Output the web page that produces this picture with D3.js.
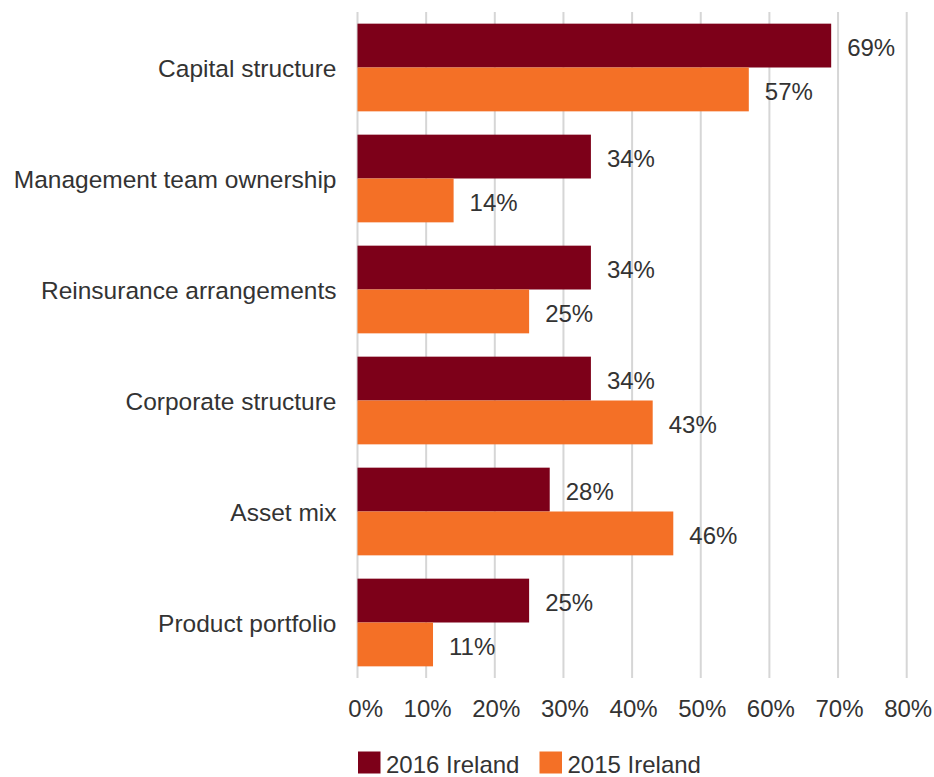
<!DOCTYPE html>
<html>
<head>
<meta charset="utf-8">
<script src="https://cdn.jsdelivr.net/npm/d3@7"></script>
<style>
  html, body { margin: 0; padding: 0; background: #fff; }
  svg { display: block; font-family: "Liberation Sans", Arial, Helvetica, sans-serif; }
</style>
</head>
<body>
<svg id="chart" width="934" height="777"></svg>
<script>
// Survey topics (top to bottom) and the share of respondents per year
const categories = [
  "Capital structure",
  "Management team ownership",
  "Reinsurance arrangements",
  "Corporate structure",
  "Asset mix",
  "Product portfolio"
];
const series2016 = [69, 34, 34, 34, 28, 25];
const series2015 = [57, 14, 25, 43, 46, 11];
const seriesNames = ["2016 Ireland", "2015 Ireland"];
const tickValues = [0, 10, 20, 30, 40, 50, 60, 70, 80];

const colors = ["#7d0019", "#f47026"];
const textColor = "#333333";
const gridColor = "#d6d6d6";

const svg = d3.select("#chart");

const plotLeft = 357.5, plotRight = 906.7, plotTop = 12, plotBottom = 678;

const x = d3.scaleLinear().domain([0, 80]).range([plotLeft, plotRight]);
const y = d3.scaleBand().domain(categories).range([plotTop, plotBottom])
  .paddingInner(0.21).paddingOuter(0.105);
const sub = d3.scaleBand().domain([0, 1]).range([0, y.bandwidth()]);

// vertical gridlines
svg.append("g").selectAll("line")
  .data(tickValues)
  .join("line")
  .attr("x1", d => x(d)).attr("x2", d => x(d))
  .attr("y1", plotTop).attr("y2", plotBottom)
  .attr("stroke", gridColor)
  .attr("stroke-width", 2);

// x tick labels, right-aligned just past each gridline
svg.append("g").selectAll("text")
  .data(tickValues)
  .join("text")
  .attr("x", d => x(d) + 25.5)
  .attr("y", 716.5)
  .attr("text-anchor", "end")
  .attr("font-size", 24)
  .attr("fill", textColor)
  .text(d => d + "%");

// category labels
svg.append("g").selectAll("text")
  .data(categories)
  .join("text")
  .attr("x", plotLeft - 21)
  .attr("y", d => y(d) + y.bandwidth() / 2)
  .attr("dy", "0.37em")
  .attr("text-anchor", "end")
  .attr("font-size", 24.5)
  .attr("fill", textColor)
  .text(d => d);

// bars and value labels
const rows = categories.map((c, i) => ({ cat: c, vals: [series2016[i], series2015[i]] }));
const groups = svg.append("g").selectAll("g")
  .data(rows)
  .join("g")
  .attr("transform", d => `translate(0,${y(d.cat)})`);

groups.selectAll("rect")
  .data(d => d.vals.map((v, k) => ({ v, k })))
  .join("rect")
  .attr("x", x(0))
  .attr("y", d => sub(d.k))
  .attr("width", d => x(d.v) - x(0))
  .attr("height", sub.bandwidth())
  .attr("fill", d => colors[d.k]);

groups.selectAll("text")
  .data(d => d.vals.map((v, k) => ({ v, k })))
  .join("text")
  .attr("x", d => x(d.v) + 16)
  .attr("y", d => sub(d.k) + sub.bandwidth() / 2 + 10.6)
  .attr("font-size", 24)
  .attr("fill", textColor)
  .text(d => d.v + "%");

// legend
const legendX = [358, 539.5];
const legend = svg.append("g").selectAll("g")
  .data(seriesNames)
  .join("g")
  .attr("transform", (d, i) => `translate(${legendX[i]},751.5)`);
legend.append("rect")
  .attr("width", 22.5).attr("height", 22)
  .attr("fill", (d, i) => colors[i]);
legend.append("text")
  .attr("x", 28)
  .attr("y", 21.8)
  .attr("font-size", 24)
  .attr("fill", textColor)
  .text(d => d);
</script>
</body>
</html>
